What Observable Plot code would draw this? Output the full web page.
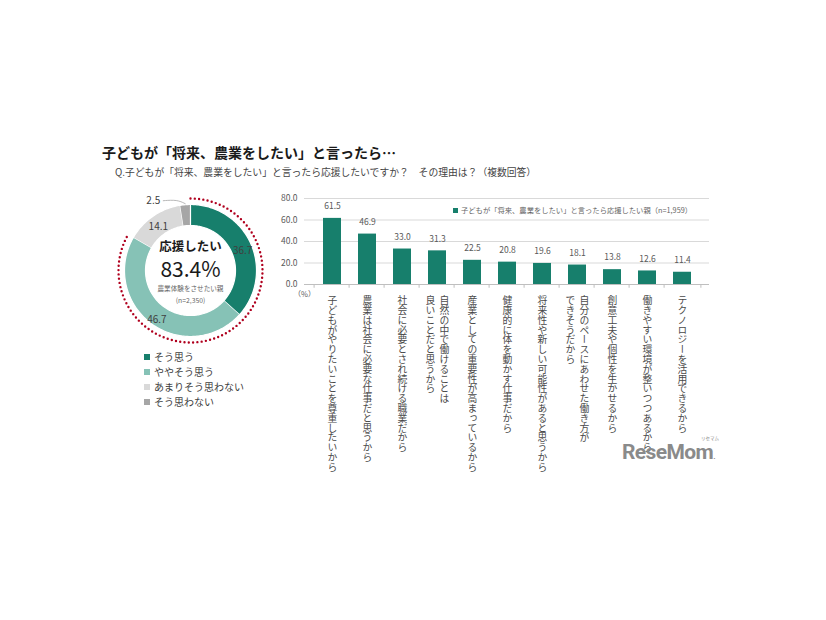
<!DOCTYPE html>
<html><head><meta charset="utf-8">
<script src="https://cdn.jsdelivr.net/npm/d3@7"></script>
<script src="https://cdn.jsdelivr.net/npm/@observablehq/plot@0.6"></script>
<style>
body{margin:0;background:#fff;font-family:"Noto Sans CJK JP","Noto Sans",sans-serif;}
#root{position:relative;width:826px;height:620px;overflow:hidden;background:#fff;}
.abs{position:absolute;white-space:nowrap;}
.lg{display:flex;align-items:center;height:15px;}
.sq{display:inline-block;width:6px;height:6px;margin-right:4px;}
text.vt{writing-mode:vertical-rl;}
</style></head><body><div id="root">
<div class="abs" style="left:102px;top:142px;font-size:14px;font-weight:bold;color:#1a1a1a;">子どもが「将来、農業をしたい」と言ったら…</div>
<div class="abs" style="left:115px;top:165px;font-size:9.8px;color:#444;">Q.子どもが「将来、農業をしたい」と言ったら応援したいですか？　その理由は？（複数回答）</div>
<div class="abs" id="donut" style="left:110px;top:190px;"></div>
<div class="abs" id="legend" style="left:144px;top:349px;font-size:10px;color:#404040;"></div>
<div class="abs" id="bars" style="left:255px;top:185px;"></div>
<div class="abs" id="barlegend" style="left:453px;top:205px;font-size:7.3px;color:#666;display:flex;align-items:center;"></div>
<div class="abs" style="left:622px;top:440px;font-family:Roboto,'DejaVu Sans',sans-serif;font-weight:bold;font-size:21px;line-height:24px;color:#8a8a8a;letter-spacing:-0.6px;">ReseMom<span style="font-size:8px">.</span></div>
<div class="abs" style="left:701px;top:436px;font-size:4.5px;line-height:5px;color:#8a8a8a;">リセマム</div>
</div>
<script>
// ---- data ----
const donutCats = ["そう思う", "ややそう思う", "あまりそう思わない", "そう思わない"];
const donutValues = [36.7, 46.7, 14.1, 2.5];
const donutColors = ["#177f6c", "#86c2b6", "#d9d9d9", "#a6a6a6"];
const donutCenter = ["応援したい", "83.4%", "農業体験をさせたい親", "(n=2,350)"];
const supportedShare = 83.4;

const barLabels = [
  "子どもがやりたいことを尊重したいから",
  "農業は社会に必要な仕事だと思うから",
  "社会に必要とされ続ける職業だから",
  "自然の中で働けることは\n良いことだと思うから",
  "産業としての重要性が高まっているから",
  "健康的に体を動かす仕事だから",
  "将来性や新しい可能性があると思うから",
  "自分のペースにあわせた働き方が\nできそうだから",
  "創意工夫や個性を生かせるから",
  "働きやすい環境が整いつつあるから",
  "テクノロジーを活用できるから"
];
const barValues = [61.5, 46.9, 33.0, 31.3, 22.5, 20.8, 19.6, 18.1, 13.8, 12.6, 11.4];
const barSeries = "子どもが「将来、農業をしたい」と言ったら応援したい親（n=1,959）";
const yTicks = [0, 20, 40, 60, 80];
const barColor = "#177f6c";
const font = '"Noto Sans CJK JP","Noto Sans",sans-serif';

// ---- donut ----
const R = 66, R0 = 45, RD = 72, RL = 57;
const toRad = p => p / 100 * 2 * Math.PI;
const arcPts = [];
const labelRows = [];
let acc = 0;
donutValues.forEach((v, i) => {
  const a0 = toRad(acc), a1 = toRad(acc + v);
  const n = Math.max(2, Math.ceil((a1 - a0) / 0.02));
  for (let k = 0; k <= n; k++) { const a = a0 + (a1 - a0) * k / n; arcPts.push({cat: donutCats[i], x: R * Math.sin(a), y: R * Math.cos(a)}); }
  for (let k = n; k >= 0; k--) { const a = a0 + (a1 - a0) * k / n; arcPts.push({cat: donutCats[i], x: R0 * Math.sin(a), y: R0 * Math.cos(a)}); }
  const am = (a0 + a1) / 2;
  labelRows.push({cat: donutCats[i], v, am, x: RL * Math.sin(am), y: RL * Math.cos(am)});
  acc += v;
});
const dotPts = [];
{
  const a1 = toRad(supportedShare), n = 300;
  for (let k = 0; k <= n; k++) { const a = a1 * k / n; dotPts.push({x: RD * Math.sin(a), y: RD * Math.cos(a)}); }
}
const small = labelRows[3];
const leader = [
  {x: (R + 1) * Math.sin(small.am), y: (R + 1) * Math.cos(small.am)},
  {x: (R + 1) * Math.sin(small.am) - 8, y: (R + 1) * Math.cos(small.am) + 4},
  {x: (R + 1) * Math.sin(small.am) - 22, y: (R + 1) * Math.cos(small.am) + 3}
];

const donut = Plot.plot({
  width: 160, height: 160, margin: 0,
  style: {fontFamily: font, background: "transparent", overflow: "visible"},
  x: {domain: [-80, 80], axis: null},
  y: {domain: [-80, 80], axis: null},
  color: {domain: donutCats, range: donutColors},
  marks: [
    Plot.line(arcPts, {x: "x", y: "y", z: "cat", fill: "cat", stroke: "white", strokeWidth: 1.2, curve: "linear"}),
    Plot.line(dotPts, {x: "x", y: "y", stroke: "#b0001e", strokeWidth: 2.4, strokeDasharray: "0 4.3", strokeLinecap: "round"}),
    Plot.text(labelRows.slice(0, 3), {x: "x", y: "y", text: d => d.v.toFixed(1), dy: 3, fontSize: 10, fill: "#404040"}),
    Plot.line(leader, {x: "x", y: "y", stroke: "#a6a6a6", strokeWidth: 0.8, curve: "basis"}),
    Plot.text([small], {x: d => leader[2].x, y: d => leader[2].y, text: d => d.v.toFixed(1), textAnchor: "end", dx: -3, fontSize: 10, fill: "#404040"}),
    Plot.text([donutCenter[0]], {frameAnchor: "middle", text: d => d, dy: -24, fontSize: 12.5, fontWeight: "bold", fill: "#1a1a1a"}),
    Plot.text([donutCenter[1]], {frameAnchor: "middle", text: d => d, dy: 0, fontSize: 21, fill: "#1a1a1a"}),
    Plot.text([donutCenter[2]], {frameAnchor: "middle", text: d => d, dy: 18, fontSize: 6.6, fill: "#666"}),
    Plot.text([donutCenter[3]], {frameAnchor: "middle", text: d => d, dy: 30, fontSize: 6.8, fill: "#666"})
  ]
});
document.getElementById("donut").appendChild(donut);

// legend
const lg = d3.select("#legend");
donutCats.forEach((c, i) => {
  const row = lg.append("div").attr("class", "lg");
  row.append("span").attr("class", "sq").style("background", donutColors[i]);
  row.append("span").text(c);
});

// ---- bars ----
const rows = barLabels.map((label, i) => ({label, value: barValues[i], lines: label.split("\n")}));
const single = rows.filter(d => d.lines.length === 1);
const dbl = rows.filter(d => d.lines.length === 2);
const allLines = new Set(rows.flatMap(d => d.lines));
const half = 18.4;
const vOpts = {frameAnchor: "bottom", dy: 11, textAnchor: "start", lineAnchor: "bottom", fontSize: 9.8, fill: "#4a4a4a"};

const bars = Plot.plot({
  width: 485, height: 295, marginLeft: 49, marginRight: 31, marginTop: 13, marginBottom: 196,
  style: {fontFamily: font, background: "transparent", overflow: "visible"},
  x: {domain: barLabels, padding: 0.5, axis: null},
  y: {domain: [0, 80], axis: null},
  marks: [
    Plot.gridY(yTicks, {stroke: "#d9d9d9", strokeOpacity: 1}),
    Plot.axisY(yTicks, {tickFormat: d => d.toFixed(1), tickSize: 0, tickPadding: 7, fontSize: 8.5, fill: "#595959", label: null}),
    Plot.barY(rows, {x: "label", y: "value", fill: barColor}),
    Plot.ruleY([0], {stroke: "#bfbfbf"}),
    Plot.ruleX(barLabels, {x: d => d, dx: -half, y1: 0, y2: -3.5, stroke: "#bfbfbf"}),
    Plot.ruleX(barLabels.slice(-1), {x: d => d, dx: half, y1: 0, y2: -3.5, stroke: "#bfbfbf"}),
    Plot.text(rows, {x: "label", y: "value", text: d => d.value.toFixed(1), dy: -12, fontSize: 8.5, fill: "#595959"}),
    Plot.text(["（%）"], {frameAnchor: "bottom-left", text: d => d, dx: -11, dy: 12, fontSize: 7.5, fill: "#595959"}),
    Plot.text(single, {...vOpts, x: "label", text: d => d.lines[0]}),
    Plot.text(dbl, {...vOpts, x: "label", text: d => d.lines[0], dx: 7}),
    Plot.text(dbl, {...vOpts, x: "label", text: d => d.lines[1], dx: -7})
  ]
});
d3.select(bars).selectAll("text")
  .filter(function() { return allLines.has(this.textContent); })
  .classed("vt", true)
  .attr("writing-mode", "tb")
  .style("writing-mode", "vertical-rl")
  .attr("dy", null);
document.getElementById("bars").appendChild(bars);

const bl = d3.select("#barlegend");
bl.append("span").style("display", "inline-block").style("width", "5px").style("height", "5px").style("margin-right", "3px").style("background", barColor);
bl.append("span").text(barSeries);
</script>
</body></html>
